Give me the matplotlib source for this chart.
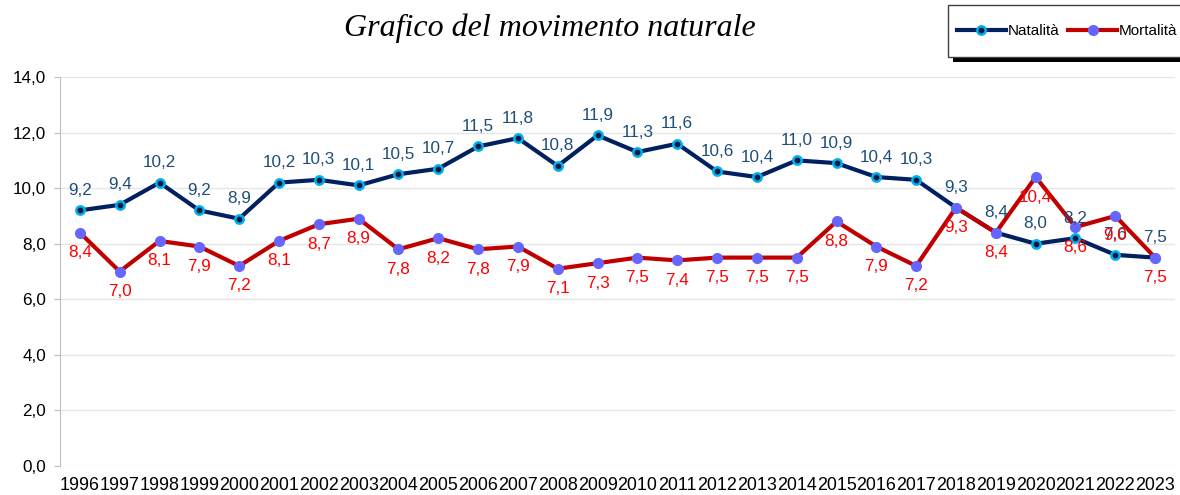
import matplotlib
matplotlib.use("Agg")
import matplotlib.pyplot as plt
from matplotlib.patches import Rectangle
from matplotlib.ticker import FuncFormatter

years = list(range(1996, 2024))
natalita = [9.2, 9.4, 10.2, 9.2, 8.9, 10.2, 10.3, 10.1, 10.5, 10.7, 11.5, 11.8, 10.8, 11.9,
            11.3, 11.6, 10.6, 10.4, 11.0, 10.9, 10.4, 10.3, 9.3, 8.4, 8.0, 8.2, 7.6, 7.5]
mortalita = [8.4, 7.0, 8.1, 7.9, 7.2, 8.1, 8.7, 8.9, 7.8, 8.2, 7.8, 7.9, 7.1, 7.3,
             7.5, 7.4, 7.5, 7.5, 7.5, 8.8, 7.9, 7.2, 9.3, 8.4, 10.4, 8.6, 9.0, 7.5]


def fmt(v):
    return f"{v:.1f}".replace('.', ',')


plt.rcParams['font.family'] = ['Liberation Sans', 'DejaVu Sans']

W, H = 1180, 495
fig = plt.figure(figsize=(W / 100, H / 100), dpi=100)
ax = fig.add_axes([0.0508, 0.0586, 0.945, 0.7858])

x = list(range(len(years)))
ax.plot(x, natalita, color='#002060', lw=3, marker='o', ms=6,
        mfc='#0a1a40', mec='#00B0F0', mew=1.8, label='Natalità', zorder=3)
ax.plot(x, mortalita, color='#C00000', lw=3, marker='o', ms=7,
        mfc='#6666FF', mec='#6666FF', label='Mortalità', zorder=3)

for xi, v in zip(x, natalita):
    ax.annotate(fmt(v), (xi, v), xytext=(0, 9), textcoords='offset points',
                ha='center', va='bottom', fontsize=12.3, color='#1F4E79', zorder=4)
for xi, v in zip(x, mortalita):
    ax.annotate(fmt(v), (xi, v), xytext=(0, -9), textcoords='offset points',
                ha='center', va='top', fontsize=12.3, color='#FF0000', zorder=4)

ax.set_xlim(-0.5, len(years) - 0.5)
ax.set_ylim(0, 14)
ax.set_yticks([0, 2, 4, 6, 8, 10, 12, 14])
ax.yaxis.set_major_formatter(FuncFormatter(lambda v, p: fmt(v)))
ax.set_xticks(x)
ax.set_xticklabels([str(y) for y in years])
ax.tick_params(axis='x', length=0, labelsize=12.9, pad=8)
ax.tick_params(axis='y', length=4, labelsize=12.3, color='#BFBFBF', pad=6)
ax.grid(axis='y', color='#E6E6E6', lw=1)
ax.set_axisbelow(True)
for s in ['top', 'right', 'bottom']:
    ax.spines[s].set_visible(False)
ax.spines['left'].set_color('#BFBFBF')

fig.text(0.466, 0.942, 'Grafico del movimento naturale', ha='center', va='center',
         fontsize=23, style='italic', family='Liberation Serif')

# legend box with hard black shadow, like the spreadsheet original
fig.patches.append(Rectangle((953 / W, 1 - 62 / H), 0.25, 52 / H, transform=fig.transFigure,
                             facecolor='black', edgecolor='none', zorder=1))
fig.patches.append(Rectangle((948 / W, 1 - 57 / H), 0.25, 52 / H, transform=fig.transFigure,
                             facecolor='white', edgecolor='#404040', lw=1, zorder=2))

leg = fig.legend(loc='center left', bbox_to_anchor=(957 / W, 1 - 31 / H), ncol=2, fontsize=11,
                 frameon=False, handlelength=3.2, handletextpad=0.1, columnspacing=0.6,
                 borderpad=0, borderaxespad=0)
leg.set_zorder(5)

fig.savefig('out.png', dpi=100)
